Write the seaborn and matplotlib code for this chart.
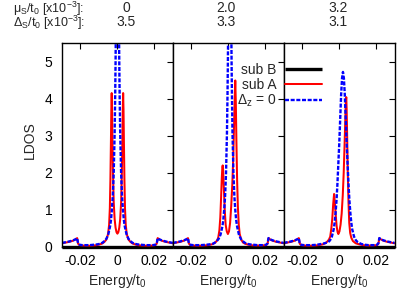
import numpy as np
import pandas as pd
import matplotlib
matplotlib.use("Agg")
import matplotlib.pyplot as plt
import seaborn as sns

# ---------------- data (energies in units of 1e-3 t0) ----------------
mu_labels = ["0", "2.0", "3.2"]
delta_labels = ["3.5", "3.3", "3.1"]
series_labels = ["sub B", "sub A", "$\\Delta_z$ = 0"]
xtick_vals = [-0.02, 0.0, 0.02]
xtick_labels = ["-0.02", "0", "0.02"]
ytick_vals = [0, 1, 2, 3, 4, 5]

# sub B (black)
e_B = [-30, -15, 0, 15, 30]
ldos_B1 = [0.0, 0.0, 0.0, 0.0, 0.0]
ldos_B2 = [0.0, 0.0, 0.0, 0.0, 0.0]
ldos_B3 = [0.0, 0.0, 0.0, 0.0, 0.0]

# panel 1
e_A1 = [-30, -28, -26, -24, -22.5, -21.8, -21.3, -20.5, -19, -17,
        -15, -13, -11, -9, -8, -7, -6, -5.5, -5, -4.5,
        -4.1, -3.8, -3.5, -3.3, -3.1, -2.9, -2.7, -2.4, -2.0, -1.5,
        -1.0, -0.5, 0, 0.5, 1.0, 1.5, 2.0, 2.4, 2.7, 2.9,
        3.1, 3.3, 3.5, 3.8, 4.1, 4.5, 5, 5.5, 6, 7,
        8, 9, 11, 13, 15, 17, 19, 20.5, 21.3, 21.8,
        22.5, 24, 26, 28, 30]
ldos_A1 = [0.10, 0.12, 0.14, 0.17, 0.21, 0.24, 0.09, 0.05, 0.04, 0.035,
           0.035, 0.04, 0.05, 0.08, 0.10, 0.14, 0.20, 0.27, 0.37, 0.60,
           1.05, 1.80, 2.90, 3.70, 4.15, 3.70, 2.90, 2.00, 1.20, 0.75,
           0.52, 0.40, 0.36, 0.40, 0.52, 0.75, 1.20, 2.00, 2.90, 3.70,
           4.15, 3.70, 2.90, 1.80, 1.05, 0.60, 0.37, 0.27, 0.20, 0.14,
           0.10, 0.08, 0.05, 0.04, 0.035, 0.035, 0.04, 0.05, 0.09, 0.24,
           0.21, 0.17, 0.14, 0.12, 0.10]
e_Z1 = [-30, -28, -26, -24, -22.5, -21.8, -21.3, -20.5, -19, -17,
        -15, -13, -11, -9, -8, -7, -6, -5, -4, -3.5,
        -3, -2.5, -2, -1.5, -1.2, -1, -0.7, -0.4, 0, 0.4,
        0.7, 1, 1.2, 1.5, 2, 2.5, 3, 3.5, 4, 5,
        6, 7, 8, 9, 11, 13, 15, 17, 19, 20.5,
        21.3, 21.8, 22.5, 24, 26, 28, 30]
ldos_Z1 = [0.11, 0.13, 0.15, 0.18, 0.21, 0.24, 0.10, 0.06, 0.05, 0.05,
           0.05, 0.06, 0.07, 0.09, 0.12, 0.16, 0.22, 0.33, 0.55, 0.72,
           1.00, 1.38, 2.00, 3.08, 4.10, 5.00, 6.70, 8.60, 10.0, 8.60,
           6.70, 5.00, 4.10, 3.08, 2.00, 1.38, 1.00, 0.72, 0.55, 0.33,
           0.22, 0.16, 0.12, 0.09, 0.07, 0.06, 0.05, 0.05, 0.05, 0.06,
           0.10, 0.24, 0.21, 0.18, 0.15, 0.13, 0.11]

# panel 2
e_A2 = [-30, -28, -26, -24, -22.5, -21.8, -21.3, -20.5, -19, -17,
        -15, -13, -11, -9, -8, -7, -6, -5.4, -4.8, -4.3,
        -3.9, -3.5, -3.2, -3.0, -2.8, -2.4, -1.9, -1.4, -0.8, -0.2,
        0.4, 1.0, 1.6, 2.2, 2.7, 3.1, 3.5, 3.8, 4.1, 4.4,
        4.8, 5.2, 5.7, 6.2, 7, 8, 9, 11, 13, 15,
        17, 19, 20.5, 21.3, 21.8, 22.5, 24, 26, 28, 30]
ldos_A2 = [0.10, 0.12, 0.14, 0.17, 0.21, 0.24, 0.09, 0.05, 0.04, 0.035,
           0.035, 0.04, 0.05, 0.07, 0.09, 0.12, 0.18, 0.26, 0.45, 0.80,
           1.30, 1.85, 2.15, 2.20, 2.10, 1.60, 1.00, 0.60, 0.42, 0.35,
           0.42, 0.65, 1.10, 1.70, 2.40, 3.20, 4.00, 4.49, 3.90, 2.90,
           1.80, 1.10, 0.60, 0.35, 0.20, 0.12, 0.09, 0.06, 0.045, 0.04,
           0.04, 0.045, 0.05, 0.09, 0.24, 0.21, 0.17, 0.14, 0.12, 0.10]
e_Z2 = [-30, -28, -26, -24, -22.5, -21.8, -21.3, -20.5, -19, -17,
        -15, -12.2, -10.2, -8.2, -7.2, -6.2, -5.2, -4.2, -3.2, -2.7,
        -2.2, -1.7, -1.2, -0.7, -0.4, -0.2, 0.1, 0.4, 0.8, 1.2,
        1.5, 1.8, 2.0, 2.3, 2.8, 3.3, 3.8, 4.3, 4.8, 5.8,
        6.8, 7.8, 8.8, 9.8, 11.8, 13.8, 15.8, 17.5, 19, 20.5,
        21.3, 21.8, 22.5, 24, 26, 28, 30]
ldos_Z2 = [0.11, 0.13, 0.15, 0.18, 0.21, 0.24, 0.10, 0.06, 0.05, 0.05,
           0.05, 0.06, 0.07, 0.09, 0.12, 0.16, 0.22, 0.33, 0.55, 0.72,
           1.00, 1.38, 2.00, 3.08, 4.10, 5.00, 6.70, 8.60, 10.0, 8.60,
           6.70, 5.00, 4.10, 3.08, 2.00, 1.38, 1.00, 0.72, 0.55, 0.33,
           0.22, 0.16, 0.12, 0.09, 0.07, 0.06, 0.05, 0.05, 0.05, 0.06,
           0.10, 0.24, 0.21, 0.18, 0.15, 0.13, 0.11]

# panel 3
e_A3 = [-30, -28, -26, -24, -22.5, -21.8, -21.3, -20.5, -19, -17,
        -15, -13, -11, -9, -7.5, -6.5, -5.5, -4.8, -4.2, -3.7,
        -3.2, -2.7, -2.3, -1.8, -1.3, -0.8, -0.4, 0.2, 0.8, 1.4,
        2.0, 2.5, 3.0, 3.4, 3.7, 3.9, 4.1, 4.4, 4.7, 5.1,
        5.5, 6.0, 6.6, 7.5, 9, 11, 13, 15, 17, 19,
        20.5, 21.3, 21.8, 22.5, 24, 26, 28, 30]
ldos_A3 = [0.10, 0.12, 0.14, 0.17, 0.21, 0.24, 0.09, 0.05, 0.04, 0.035,
           0.035, 0.04, 0.05, 0.07, 0.10, 0.14, 0.20, 0.28, 0.50, 0.75,
           1.15, 1.43, 1.20, 0.85, 0.55, 0.40, 0.35, 0.42, 0.60, 0.90,
           1.40, 2.00, 2.80, 3.50, 3.95, 4.04, 3.70, 2.90, 2.00, 1.20,
           0.65, 0.38, 0.25, 0.16, 0.10, 0.07, 0.05, 0.04, 0.04, 0.045,
           0.05, 0.09, 0.24, 0.21, 0.17, 0.14, 0.12, 0.10]
e_Z3 = [-30, -28, -26, -24, -22.5, -21.8, -21.3, -20.5, -19, -17,
        -15, -12, -9.9, -7.9, -5.9, -4.9, -3.9, -2.9, -2.4, -1.9,
        -1.4, -0.9, -0.4, 0.1, 0.6, 1.1, 1.6, 2.1, 2.6, 3.1,
        3.6, 4.1, 4.6, 5.1, 5.6, 6.1, 6.6, 7.1, 8.1, 9.1,
        10.1, 12.1, 14.1, 16, 18, 19.5, 20.5, 21.3, 21.8, 22.5,
        24, 26, 28, 30]
ldos_Z3 = [0.11, 0.13, 0.15, 0.18, 0.21, 0.24, 0.10, 0.06, 0.05, 0.05,
           0.05, 0.06, 0.08, 0.10, 0.13, 0.18, 0.28, 0.48, 0.66, 0.92,
           1.25, 1.70, 2.25, 2.80, 3.45, 4.10, 4.55, 4.72, 4.55, 4.10,
           3.45, 2.80, 2.25, 1.70, 1.25, 0.92, 0.66, 0.48, 0.28, 0.18,
           0.13, 0.08, 0.06, 0.05, 0.05, 0.05, 0.06, 0.10, 0.24, 0.21,
           0.18, 0.15, 0.13, 0.11]

# ---------------- assemble long table ----------------
panels_data = [
    [(e_B, ldos_B1), (e_A1, ldos_A1), (e_Z1, ldos_Z1)],
    [(e_B, ldos_B2), (e_A2, ldos_A2), (e_Z2, ldos_Z2)],
    [(e_B, ldos_B3), (e_A3, ldos_A3), (e_Z3, ldos_Z3)],
]
rows = []
for p, plist in enumerate(panels_data):
    for s, (ee, yy) in enumerate(plist):
        for xv, yv in zip(ee, yy):
            rows.append({"panel": p, "series": series_labels[s], "E": xv * 1e-3, "LDOS": yv})
df = pd.DataFrame(rows)

# ---------------- style ----------------
sns.set_style("white")
plt.rcParams["font.family"] = ["Liberation Sans", "DejaVu Sans"]
plt.rcParams["mathtext.fontset"] = "custom"
plt.rcParams["mathtext.rm"] = "Liberation Sans"
plt.rcParams["mathtext.it"] = "Liberation Sans:italic"
plt.rcParams["mathtext.default"] = "regular"
plt.rcParams["axes.unicode_minus"] = False
plt.rcParams["font.size"] = 10

colors = {"sub B": "#000000", "sub A": "#ff0000", "$\\Delta_z$ = 0": "#0000ff"}
widths = {"sub B": 2.4, "sub A": 1.45, "$\\Delta_z$ = 0": 1.7}

W, H = 415, 291
fig, axes = plt.subplots(1, 3, figsize=(W / 100, H / 100), dpi=100, sharey=True)
fig.subplots_adjust(left=62 / W, right=394.5 / W, top=1 - 43 / H, bottom=1 - 247 / H, wspace=0)

for p, ax in enumerate(axes):
    sub = df[df["panel"] == p]
    for s in series_labels:
        d = sub[sub["series"] == s]
        sns.lineplot(data=d, x="E", y="LDOS", ax=ax, color=colors[s], lw=widths[s],
                     estimator=None, sort=False, legend=False)
        ln = ax.lines[-1]
        if s == "$\\Delta_z$ = 0":
            ln.set_dashes((1.7, 0.7))
        if s == "sub B":
            ln.set_clip_on(False)
            ln.set_solid_capstyle("butt")
    ax.set_xlim(-0.03, 0.03)
    ax.set_ylim(0, 5.5)
    ax.set_xticks(xtick_vals)
    ax.set_xticklabels(xtick_labels)
    ax.set_yticks(ytick_vals)
    ax.tick_params(direction="in", top=True, right=True, length=4, width=0.8,
                   labelsize=10, colors="black")
    ax.tick_params(axis="x", pad=5)
    ax.tick_params(axis="y", pad=7)
    ax.set_xlabel("Energy/t$_0$", fontsize=10, labelpad=3)
    ax.set_ylabel("")
    for sp in ax.spines.values():
        sp.set_color("black")
        sp.set_linewidth(1.0)
    if p > 0:
        ax.tick_params(labelleft=False)

fig.text(30 / W, 1 - 140 / H, "LDOS", rotation=90, ha="center", va="center", fontsize=10)

# header text
fig.text(13 / W, 1 - 12.5 / H, "μ$_S$/t$_0$ [x10$^{-3}$]:", ha="left", va="baseline", fontsize=9)
fig.text(13 / W, 1 - 26.5 / H, "Δ$_S$/t$_0$ [x10$^{-3}$]:", ha="left", va="baseline", fontsize=9)
col_x = [126, 226, 338]
for cx, mu, de in zip(col_x, mu_labels, delta_labels):
    fig.text(cx / W, 1 - 12.5 / H, mu, ha="center", va="baseline", fontsize=10)
    fig.text(cx / W, 1 - 25.5 / H, de, ha="center", va="baseline", fontsize=10)

# legend (gnuplot style: text then sample)
handles = axes[0].lines[:3]
fig.legend(handles, series_labels, loc="upper right", bbox_to_anchor=(322 / W, 1 - 63 / H),
           markerfirst=False, frameon=False, handlelength=2.65, handletextpad=0.65,
           labelspacing=0.05, borderpad=0, borderaxespad=0, fontsize=10)

fig.savefig("out.png", dpi=100)
